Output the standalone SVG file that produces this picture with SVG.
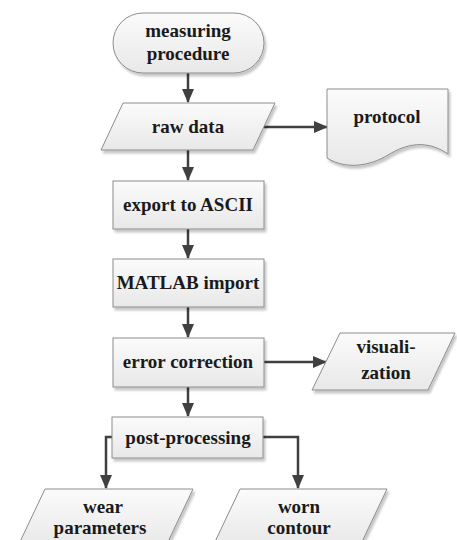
<svg xmlns="http://www.w3.org/2000/svg" width="457" height="540" viewBox="0 0 457 540">
  <defs>
    <linearGradient id="boxFill" x1="0" y1="0" x2="0" y2="1">
      <stop offset="0" stop-color="#fbfbfb"/>
      <stop offset="1" stop-color="#e8e8e8"/>
    </linearGradient>
    <filter id="shadow" x="-10%" y="-10%" width="125%" height="130%">
      <feGaussianBlur in="SourceAlpha" stdDeviation="1"/>
      <feOffset dx="2" dy="3" result="off"/>
      <feFlood flood-color="#000" flood-opacity="0.22"/>
      <feComposite in2="off" operator="in" result="sh"/>
      <feMerge>
        <feMergeNode in="sh"/>
        <feMergeNode in="SourceGraphic"/>
      </feMerge>
    </filter>
    <marker id="arrow" viewBox="0 0 14 12" refX="13" refY="6" markerWidth="14" markerHeight="12" markerUnits="userSpaceOnUse" orient="auto">
      <path d="M0,0 L14,6 L0,12 Z" fill="#404040"/>
    </marker>
  </defs>
  <style>
    .shape { fill: url(#boxFill); stroke: #8c8c8c; stroke-width: 1; filter: url(#shadow); }
    .label { font-family: "Liberation Serif", "Times New Roman", serif; font-weight: bold; font-size: 19px; fill: #1a1a1a; text-anchor: middle; }
    .conn { fill: none; stroke: #404040; stroke-width: 2.5; marker-end: url(#arrow); }
  </style>
  <rect width="457" height="540" fill="#ffffff"/>

  <!-- connectors -->
  <g id="connectors">
    <path class="conn" d="M188,73 V102"/>
    <path class="conn" d="M188,150 V180"/>
    <path class="conn" d="M188,229 V258"/>
    <path class="conn" d="M188,307 V337"/>
    <path class="conn" d="M188,387 V416"/>
    <path class="conn" d="M264,127 H327"/>
    <path class="conn" d="M264,362 H326"/>
    <path class="conn" d="M112,437 H106 V488"/>
    <path class="conn" d="M263,437 H298 V488"/>
  </g>

  <g id="measuring-procedure">
    <rect class="shape" x="113" y="13" width="151" height="60" rx="30" ry="30"/>
    <text class="label" x="188" y="37">measuring</text>
    <text class="label" x="188" y="60">procedure</text>
  </g>

  <g id="raw-data">
    <polygon class="shape" points="123,103 275,103 253,150 101,150"/>
    <text class="label" x="188" y="133">raw data</text>
  </g>

  <g id="protocol">
    <path class="shape" d="M327,89 H448 V154 C426,139 406,144 388,155 C370,166 346,170 327,158 Z"/>
    <text class="label" x="387" y="123">protocol</text>
  </g>

  <g id="export-ascii">
    <rect class="shape" x="113" y="181" width="151" height="48"/>
    <text class="label" x="188" y="211">export to ASCII</text>
  </g>

  <g id="matlab-import">
    <rect class="shape" x="113" y="259" width="151" height="48"/>
    <text class="label" x="188" y="289">MATLAB import</text>
  </g>

  <g id="error-correction">
    <rect class="shape" x="113" y="338" width="151" height="49"/>
    <text class="label" x="188" y="368">error correction</text>
  </g>

  <g id="visualization">
    <polygon class="shape" points="340,333 455,333 428,390 312,390"/>
    <text class="label" x="386" y="353">visuali-</text>
    <text class="label" x="386" y="379">zation</text>
  </g>

  <g id="post-processing">
    <rect class="shape" x="112" y="417" width="151" height="41"/>
    <text class="label" x="188" y="444">post-processing</text>
  </g>

  <g id="wear-parameters">
    <polygon class="shape" points="45,489 193,489 166,546 18,546"/>
    <text class="label" x="103" y="513">wear</text>
    <text class="label" x="100" y="534">parameters</text>
  </g>

  <g id="worn-contour">
    <polygon class="shape" points="240,489 387,489 360,546 213,546"/>
    <text class="label" x="299" y="513">worn</text>
    <text class="label" x="299" y="534">contour</text>
  </g>
</svg>
